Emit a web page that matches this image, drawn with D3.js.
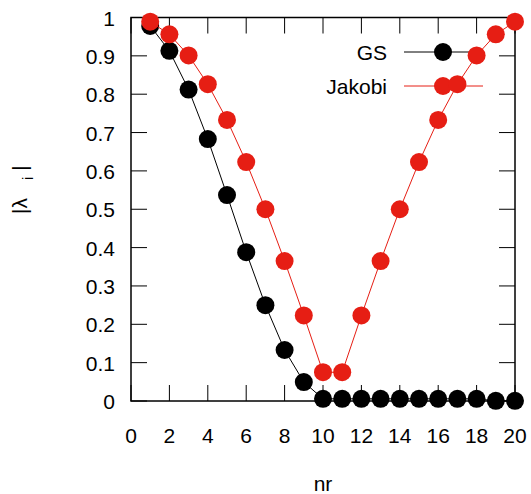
<html>
<head>
  <script src="https://d3js.org/d3.v7.min.js"></script>
  <style>
    body { margin: 0; background: white; }
    text { font-family: "Liberation Sans", Arial, sans-serif; }
  </style>
</head>
<body>
  <svg id="chart" width="531" height="494"></svg>
  <script>
    // data
    let nr = [1, 2, 3, 4, 5, 6, 7, 8, 9, 10, 11, 12, 13, 14, 15, 16, 17, 18, 19, 20];
    let gs = [0.978, 0.913, 0.812, 0.683, 0.537, 0.388, 0.25, 0.133, 0.0495, 0.0056,
              0.0056, 0.0056, 0.0056, 0.0056, 0.0056, 0.0056, 0.0056, 0.0056, 0.0005, 0.0005];
    let jakobi = [0.989, 0.956, 0.901, 0.826, 0.733, 0.623, 0.5, 0.365, 0.223, 0.075,
                  0.075, 0.223, 0.365, 0.5, 0.623, 0.733, 0.826, 0.901, 0.956, 0.989];
    let xTicks = [0, 2, 4, 6, 8, 10, 12, 14, 16, 18, 20];
    let yTicks = [0, 0.1, 0.2, 0.3, 0.4, 0.5, 0.6, 0.7, 0.8, 0.9, 1];

    let svg = d3.select("#chart");
    let pLeft = 131, pRight = 515, pTop = 17.5, pBottom = 401;
    let red = "#e61e14";
    let fs = 21;

    let x = d3.scaleLinear().domain([0, 20]).range([pLeft, pRight]);
    let y = d3.scaleLinear().domain([0, 1]).range([pBottom, pTop]);

    let tickLen = 16;
    let g = svg.append("g");

    // ticks, mirrored on all sides, pointing inwards
    xTicks.forEach(t => {
      g.append("line").attr("x1", x(t)).attr("x2", x(t))
        .attr("y1", pBottom).attr("y2", pBottom - tickLen)
        .attr("stroke", "black").attr("stroke-width", 1);
      g.append("line").attr("x1", x(t)).attr("x2", x(t))
        .attr("y1", pTop).attr("y2", pTop + tickLen)
        .attr("stroke", "black").attr("stroke-width", 1);
      g.append("text").attr("x", x(t)).attr("y", 443)
        .attr("text-anchor", "middle").attr("font-size", fs).text(t);
    });
    yTicks.forEach(t => {
      g.append("line").attr("x1", pLeft).attr("x2", pLeft + tickLen)
        .attr("y1", y(t)).attr("y2", y(t))
        .attr("stroke", "black").attr("stroke-width", 1);
      g.append("line").attr("x1", pRight).attr("x2", pRight - tickLen)
        .attr("y1", y(t)).attr("y2", y(t))
        .attr("stroke", "black").attr("stroke-width", 1);
      g.append("text").attr("x", 115).attr("y", y(t) + 8)
        .attr("text-anchor", "end").attr("font-size", fs).text(t);
    });

    g.append("rect").attr("x", pLeft).attr("y", pTop)
      .attr("width", pRight - pLeft).attr("height", pBottom - pTop)
      .attr("fill", "none").attr("stroke", "black").attr("stroke-width", 1.5);

    // axis labels
    svg.append("text").attr("x", x(10)).attr("y", 491)
      .attr("text-anchor", "middle").attr("font-size", fs).text("nr");

    let yl = svg.append("text")
      .attr("transform", "translate(27,214) rotate(-90)")
      .attr("text-anchor", "start").attr("font-size", fs);
    yl.append("tspan").text("|");
    yl.append("tspan").text("λ").attr("dx", 0);
    yl.append("tspan").text("i").attr("dx", 18).attr("dy", 6).attr("font-size", 15);
    yl.append("tspan").text("|").attr("dx", 6).attr("dy", -6);

    let line = d3.line().x((d, i) => x(nr[i])).y(d => y(d));
    let r = 9;

    function series(name, values, color, ky) {
      // key entry
      svg.append("text").attr("x", 387).attr("y", ky + 8)
        .attr("text-anchor", "end").attr("font-size", fs).text(name);
      svg.append("line").attr("x1", 404).attr("x2", 483)
        .attr("y1", ky).attr("y2", ky)
        .attr("stroke", color).attr("stroke-width", 1);
      svg.append("circle").attr("cx", 443).attr("cy", ky).attr("r", r).attr("fill", color);

      svg.append("path").datum(values).attr("d", line)
        .attr("fill", "none").attr("stroke", color).attr("stroke-width", 1);
      svg.selectAll(null).data(values).enter().append("circle")
        .attr("cx", (d, i) => x(nr[i])).attr("cy", d => y(d))
        .attr("r", r).attr("fill", color);
    }

    series("GS", gs, "black", 52);
    series("Jakobi", jakobi, red, 86);
  </script>
</body>
</html>
